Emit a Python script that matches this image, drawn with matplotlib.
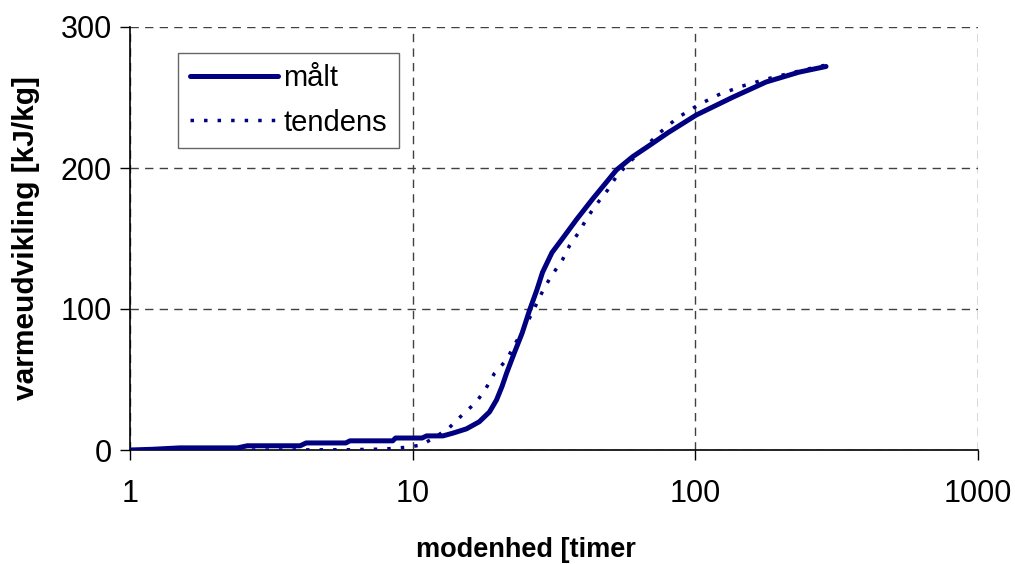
import numpy as np
import matplotlib
matplotlib.use('Agg')
import matplotlib.pyplot as plt

plt.rcParams['font.family'] = ['Liberation Sans', 'DejaVu Sans']

# measured heat development (maalt)
maalt_x = [1.0, 1.2, 1.5, 2.4, 2.6, 4.0, 4.2, 5.8, 6.0, 8.5, 8.7, 10.8, 11.2, 12.8,
           13.9, 15.5, 17.2, 18.7, 19.8, 20.7, 21.5, 22.9, 24.4, 25.9, 27.5, 28.8,
           31.1, 33.9, 38.0, 43.3, 52.6, 60.0, 68.8, 80.0, 100.8, 135.0, 178.0,
           233.0, 290.0]
maalt_y = [0, 0.5, 1.5, 1.5, 3, 3, 5, 5, 6.5, 6.5, 8.5, 8.5, 10, 10,
           12, 15, 20, 27, 35.5, 45, 54.6, 69, 83, 99, 113.5, 126,
           140, 150, 163.5, 178, 198.6, 208, 216, 225, 237.6, 250, 261,
           268, 272]

# trend curve (tendens)
tend_x = [1.0, 3.0, 6.0, 8.0, 9.6, 10.7, 12.0, 13.5, 15.0, 16.8, 18.2, 19.5, 21.5,
          22.9, 24.4, 26.3, 29.2, 31.1, 33.9, 35.9, 38.9, 41.5, 45.0, 48.8, 52.6,
          58.4, 74.8, 86.3, 103.0, 121.0, 146.0, 178.0, 214.0, 260.0, 290.0]
tend_y = [0, 0, 0.2, 0.7, 2, 3.5, 9, 16, 25, 34, 44, 54.6, 64,
          74.5, 84, 96, 115, 124, 135, 145, 155, 165, 175, 184, 194,
          204, 225, 235.5, 245, 252, 258, 263, 267, 271, 273]

fig = plt.figure(figsize=(10.15, 5.64), dpi=100)
ax = fig.add_axes([130/1015, 114/564, 848/1015, 423/564])

ax.plot(maalt_x, maalt_y, '-', color='#000080', linewidth=3.6, label='målt',
        solid_capstyle='round', zorder=3)
ax.plot(tend_x, tend_y, color='#000080', linewidth=2.5, linestyle=(0, (1, 2.9)),
        label='tendens', zorder=3)

ax.set_xscale('log')
ax.set_xlim(1, 1000)
ax.set_ylim(0, 300)
ax.set_xticks([1, 10, 100, 1000])
ax.set_xticklabels(['1', '10', '100', '1000'])
ax.set_yticks([0, 100, 200, 300])
ax.minorticks_off()

ax.grid(True, color='#404040', linestyle=(0, (6, 4.5)), linewidth=1.0)
ax.spines['top'].set_visible(False)
ax.spines['right'].set_visible(False)
ax.spines['left'].set_linewidth(1.2)
ax.spines['bottom'].set_linewidth(1.2)
ax.tick_params(axis='both', direction='out', length=7, width=1, labelsize=22,
               colors='black')
ax.tick_params(axis='x', pad=14)
ax.tick_params(axis='y', pad=6)

ax.set_xlabel('modenhed [timer', fontsize=19.5, fontweight='bold', labelpad=20,
              x=0.467)
ax.set_ylabel('varmeudvikling [kJ/kg]', fontsize=21.5, fontweight='bold', labelpad=15)

leg = ax.legend(loc='upper left', bbox_to_anchor=(0.057, 0.939), fontsize=21,
                frameon=True, fancybox=False, handlelength=3.0, handletextpad=0.2,
                labelspacing=0.55, borderpad=0.4, borderaxespad=0)
leg.get_frame().set_edgecolor('#404040')
leg.get_frame().set_linewidth(1.0)

plt.savefig('out.png', dpi=100)
